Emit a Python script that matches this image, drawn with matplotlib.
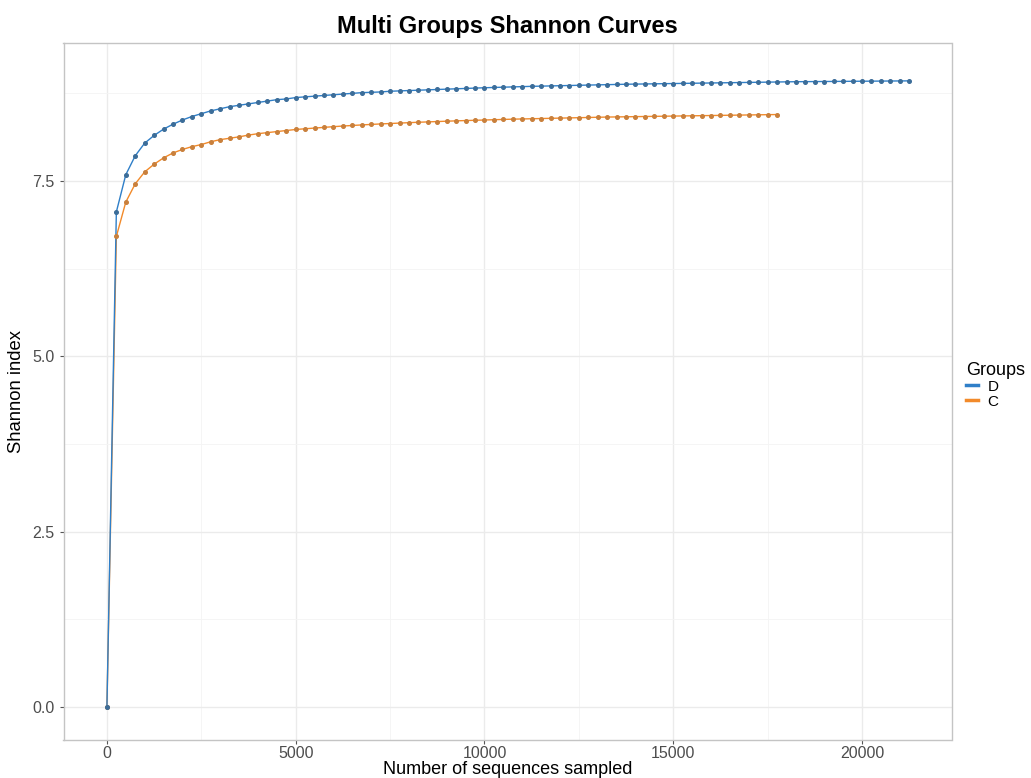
import matplotlib.pyplot as plt
from matplotlib.ticker import MultipleLocator

plt.rcParams['font.family'] = ['Liberation Sans', 'DejaVu Sans']

step = 250
d_vals = [0, 7.06, 7.59, 7.86, 8.04, 8.15, 8.24, 8.31, 8.37, 8.42,
          8.46, 8.50, 8.53, 8.56, 8.58, 8.60, 8.62, 8.64, 8.66, 8.67,
          8.69, 8.70, 8.71, 8.72, 8.73, 8.74, 8.75, 8.76, 8.765, 8.77,
          8.78, 8.785, 8.79, 8.795, 8.80, 8.805, 8.81, 8.815, 8.82, 8.825,
          8.83, 8.834, 8.838, 8.842, 8.846, 8.85, 8.853, 8.856, 8.859, 8.862,
          8.865, 8.868, 8.871, 8.874, 8.877, 8.88, 8.882, 8.884, 8.886, 8.888,
          8.89, 8.892, 8.894, 8.896, 8.898, 8.90, 8.902, 8.904, 8.906, 8.908,
          8.91, 8.912, 8.914, 8.916, 8.917, 8.918, 8.919, 8.92, 8.921, 8.922,
          8.923, 8.924, 8.925, 8.926, 8.927, 8.928]
c_vals = [0, 6.71, 7.20, 7.46, 7.63, 7.74, 7.83, 7.90, 7.95, 7.99,
          8.02, 8.06, 8.09, 8.11, 8.13, 8.155, 8.175, 8.19, 8.205, 8.22,
          8.235, 8.245, 8.255, 8.265, 8.275, 8.284, 8.292, 8.30, 8.307, 8.314,
          8.32, 8.326, 8.332, 8.338, 8.343, 8.348, 8.353, 8.358, 8.362, 8.366,
          8.37, 8.374, 8.378, 8.382, 8.385, 8.388, 8.391, 8.394, 8.397, 8.40,
          8.403, 8.406, 8.409, 8.412, 8.414, 8.416, 8.418, 8.42, 8.422, 8.424,
          8.426, 8.428, 8.43, 8.432, 8.434, 8.436, 8.438, 8.44, 8.442, 8.444,
          8.446, 8.448]
d_x = [i * step for i in range(len(d_vals))]
c_x = [i * step for i in range(len(c_vals))]

groups = ["D", "C"]
colors = {"D": "#2f7fc8", "C": "#f28a2a"}
point_colors = {"D": "#3c6d99", "C": "#c9803c"}

fig = plt.figure(figsize=(10.31, 7.78), dpi=100)
ax = fig.add_axes([63.5/1031, 1-739.5/778, (951.5-63.5)/1031, (739.5-43)/778])

# C first so D sits on top of the shared start
for g, xs, ys in [("C", c_x, c_vals), ("D", d_x, d_vals)]:
    ax.plot(xs, ys, color=colors[g], linewidth=1.0, zorder=3)
    ax.plot(xs, ys, linestyle='none', marker='o', markersize=2.6,
            color=point_colors[g], zorder=4)

ax.set_xlim(-1150, 22370)
ax.set_ylim(-0.463, 9.468)

ax.xaxis.set_major_locator(MultipleLocator(5000))
ax.xaxis.set_minor_locator(MultipleLocator(2500))
ax.yaxis.set_major_locator(MultipleLocator(2.5))
ax.yaxis.set_minor_locator(MultipleLocator(1.25))
ax.yaxis.set_major_formatter(plt.FuncFormatter(lambda v, p: "%.1f" % v))

ax.grid(which='major', color='#ebebeb', linewidth=1.0, zorder=0)
ax.grid(which='minor', color='#f4f4f4', linewidth=0.6, zorder=0)
ax.set_axisbelow(True)
for s in ax.spines.values():
    s.set_color('#c4c4c4')
    s.set_linewidth(1.0)
ax.tick_params(which='major', length=3, color='#555555', labelcolor='#4d4d4d', labelsize=11.5)
ax.tick_params(axis='x', which='major', pad=2)
ax.tick_params(which='minor', length=0)

ax.set_xlabel("Number of sequences sampled", fontsize=13, color='black', labelpad=0)
ax.set_ylabel("Shannon index", fontsize=13.3, color='black', labelpad=5)
ax.set_title("Multi Groups Shannon Curves", fontsize=17, fontweight='bold', pad=7)

handles = [plt.Line2D([], [], color=colors[g], linewidth=2.5) for g in groups]
leg = fig.legend(handles, groups, title="Groups", loc='upper left',
                 bbox_to_anchor=(966/1031, 1-362/778), frameon=False,
                 fontsize=11, title_fontsize=13, handlelength=0.8,
                 handletextpad=0.6, labelspacing=0.05, borderaxespad=0,
                 borderpad=0)
leg._legend_box.align = "left"

fig.savefig("out.png", dpi=100)
